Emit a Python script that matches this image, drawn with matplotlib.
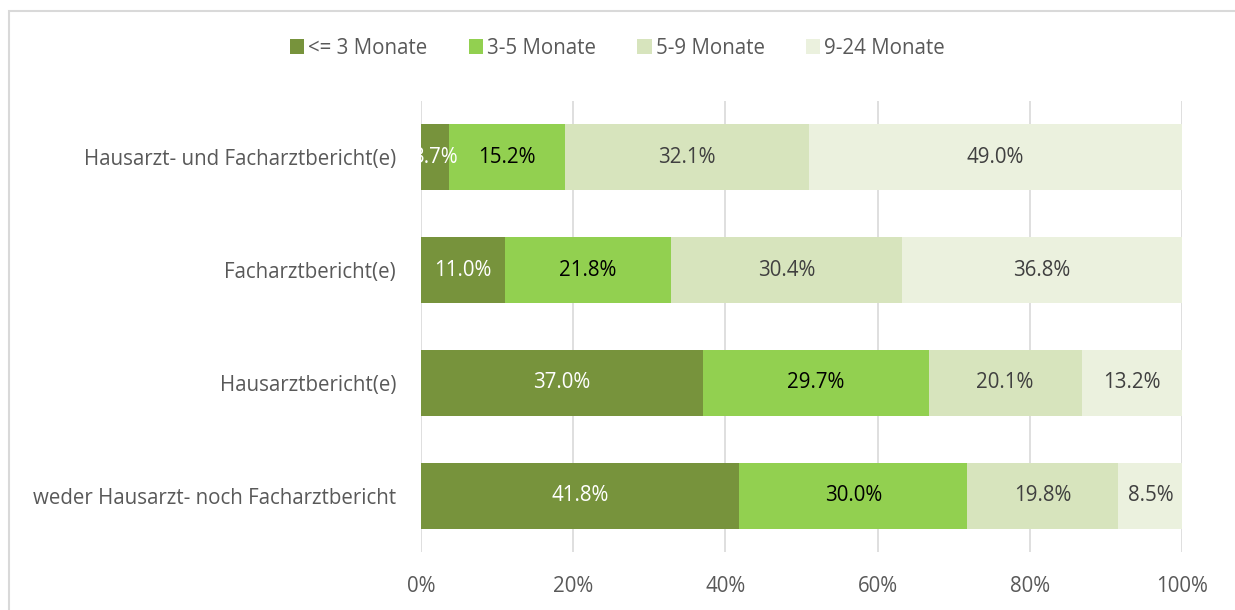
import matplotlib
matplotlib.use("Agg")
import matplotlib.pyplot as plt
from matplotlib.patches import Rectangle

plt.rcParams['font.family'] = ['Open Sans', 'DejaVu Sans']

categories = [
    "Hausarzt- und Facharztbericht(e)",
    "Facharztbericht(e)",
    "Hausarztbericht(e)",
    "weder Hausarzt- noch Facharztbericht",
]
series_names = ["<= 3 Monate", "3-5 Monate", "5-9 Monate", "9-24 Monate"]
le3 = [3.7, 11.0, 37.0, 41.8]
m3_5 = [15.2, 21.8, 29.7, 30.0]
m5_9 = [32.1, 30.4, 20.1, 19.8]
m9_24 = [49.0, 36.8, 13.2, 8.5]
xticks = [0, 20, 40, 60, 80, 100]

series = [le3, m3_5, m5_9, m9_24]
colors = ["#77933C", "#92D050", "#D7E4BD", "#EBF1DE"]
label_colors = ["white", "black", "#404040", "#404040"]
FS = 14.8

fig = plt.figure(figsize=(12.35, 6.1), dpi=100)
ax = fig.add_axes([0.3409, 0.0943, 0.6162, 0.7409])

# light frame around the chart area
fig.patches.append(Rectangle((8.5 / 1235, -0.1), 1.2, 1 - 10.5 / 610 + 0.1,
                             transform=fig.transFigure, fill=False,
                             edgecolor="#D9D9D9", linewidth=1.5))

y = list(range(len(categories)))
left = [0.0] * len(categories)
for vals, name, col, tcol in zip(series, series_names, colors, label_colors):
    ax.barh(y, vals, left=left, height=0.585, color=col, label=name, zorder=2)
    for yi, v, l in zip(y, vals, left):
        t = ax.text(l + v / 2, yi, f"{v:.1f}%", ha="center", va="center",
                    color=tcol, fontsize=FS, zorder=3)
        t.set_clip_path(ax.patch)
    left = [a + b for a, b in zip(left, vals)]

ax.set_xlim(0, 100)
ax.set_ylim(len(categories) - 0.5, -0.5)
ax.set_yticks(y)
ax.set_yticklabels(categories)
ax.set_xticks(xticks)
ax.set_xticklabels([f"{t}%" for t in xticks])
ax.tick_params(axis="both", length=0, labelsize=FS, colors="#595959")
ax.tick_params(axis="y", pad=18)
ax.tick_params(axis="x", pad=17)
ax.grid(axis="x", color="#D9D9D9", linewidth=1.2, zorder=0)
for s in ax.spines.values():
    s.set_visible(False)

fig.legend(loc="center", bbox_to_anchor=(0.5, 1 - 48 / 610), ncol=4,
           frameon=False, fontsize=FS, handlelength=0.7, handleheight=0.7,
           handletextpad=0.2, columnspacing=2.0, labelcolor="#595959")

fig.savefig("out.png", dpi=100)
